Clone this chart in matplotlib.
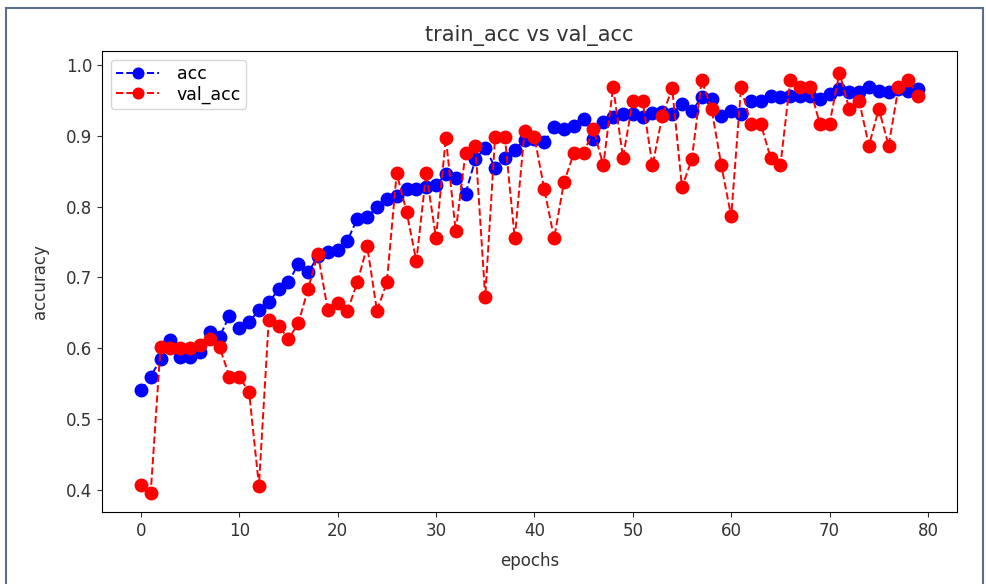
import matplotlib
matplotlib.use("Agg")
import matplotlib.pyplot as plt
from matplotlib.lines import Line2D

epochs = list(range(80))

acc = [0.541, 0.560, 0.585, 0.611, 0.588, 0.588, 0.595, 0.623, 0.616, 0.646,
       0.628, 0.637, 0.654, 0.665, 0.683, 0.693, 0.719, 0.707, 0.730, 0.736,
       0.738, 0.752, 0.783, 0.785, 0.799, 0.811, 0.815, 0.825, 0.825, 0.827,
       0.830, 0.846, 0.841, 0.818, 0.867, 0.883, 0.855, 0.869, 0.880, 0.894,
       0.896, 0.891, 0.912, 0.909, 0.913, 0.924, 0.895, 0.919, 0.926, 0.931,
       0.931, 0.927, 0.932, 0.933, 0.931, 0.945, 0.935, 0.954, 0.952, 0.928,
       0.935, 0.931, 0.949, 0.949, 0.956, 0.954, 0.956, 0.956, 0.956, 0.952,
       0.959, 0.966, 0.961, 0.961, 0.968, 0.963, 0.961, 0.966, 0.963, 0.966]

val_acc = [0.407, 0.396, 0.602, 0.600, 0.600, 0.600, 0.605, 0.613, 0.602, 0.560,
           0.560, 0.538, 0.406, 0.640, 0.632, 0.613, 0.635, 0.684, 0.733, 0.654,
           0.664, 0.653, 0.693, 0.744, 0.653, 0.693, 0.847, 0.793, 0.723, 0.847,
           0.756, 0.897, 0.765, 0.876, 0.886, 0.672, 0.898, 0.898, 0.755, 0.907,
           0.898, 0.825, 0.755, 0.834, 0.875, 0.875, 0.909, 0.858, 0.969, 0.869,
           0.949, 0.949, 0.858, 0.928, 0.967, 0.827, 0.867, 0.978, 0.938, 0.858,
           0.786, 0.968, 0.917, 0.917, 0.869, 0.858, 0.978, 0.968, 0.968, 0.917,
           0.917, 0.989, 0.938, 0.949, 0.886, 0.938, 0.886, 0.968, 0.978, 0.956]

plt.rcParams['font.family'] = ['DejaVu Sans']

fig = plt.figure(figsize=(9.87, 5.84), dpi=100)
ax = fig.add_axes([102/987, 1 - 512/584, (957 - 102)/987, (512 - 51)/584])

ax.plot(epochs, acc, 'bo--', markersize=9, linewidth=1.4, label='acc')
ax.plot(epochs, val_acc, 'ro--', markersize=9, linewidth=1.4, label='val_acc')

ax.set_ylim(0.369, 1.0195)
ax.set_title('train_acc vs val_acc', fontsize=15, color='#333333', pad=7)
ax.set_xlabel('epochs', fontsize=12, color='#333333', labelpad=9)
ax.set_ylabel('accuracy', fontsize=12, color='#333333', labelpad=12)
ax.tick_params(labelsize=12, colors='#333333')
ax.set_xticks([0, 10, 20, 30, 40, 50, 60, 70, 80])
ax.set_yticks([0.4, 0.5, 0.6, 0.7, 0.8, 0.9, 1.0])
ax.legend(loc='upper left', fontsize=12.5, labelspacing=0.15, borderpad=0.3,
          handlelength=2.5, handletextpad=1.0, markerscale=0.85)

border = '#5a6f8f'
fig.add_artist(Line2D([6/987, 6/987], [0, 1 - 8/584], transform=fig.transFigure, color=border, linewidth=1.5))
fig.add_artist(Line2D([6/987, 983/987], [1 - 8/584, 1 - 8/584], transform=fig.transFigure, color=border, linewidth=1.5))
fig.add_artist(Line2D([983/987, 983/987], [0, 1 - 8/584], transform=fig.transFigure, color=border, linewidth=1.5))

fig.savefig('out.png', dpi=100)
